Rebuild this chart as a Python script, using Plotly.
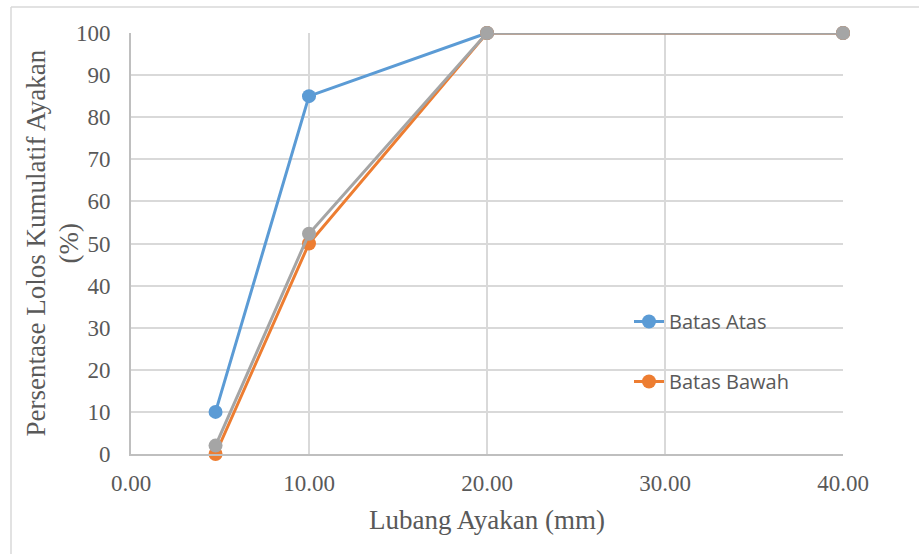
import plotly.graph_objects as go

x_vals = [4.75, 10, 20, 40]
batas_atas = [10, 85, 100, 100]
batas_bawah = [0, 50, 100, 100]
hasil = [2, 52.3, 100, 100]
x_ticks = [0, 10, 20, 30, 40]
x_tick_labels = ["0.00", "10.00", "20.00", "30.00", "40.00"]
y_ticks = list(range(0, 101, 10))

fig = go.Figure()
fig.add_trace(go.Scatter(x=x_vals, y=batas_atas, name="Batas Atas", mode="lines+markers",
                         line=dict(color="#5B9BD5", width=3), marker=dict(size=14, color="#5B9BD5"),
                         legendgroup="a", cliponaxis=False))
fig.add_trace(go.Scatter(x=x_vals, y=batas_bawah, name="Batas Bawah", mode="lines+markers",
                         line=dict(color="#ED7D31", width=3), marker=dict(size=14, color="#ED7D31"),
                         legendgroup="b", cliponaxis=False))
fig.add_trace(go.Scatter(x=x_vals, y=hasil, name="Hasil", mode="lines+markers",
                         line=dict(color="#A5A5A5", width=3), marker=dict(size=14, color="#A5A5A5"),
                         showlegend=False, cliponaxis=False))

L, R, T, B = 131, 76, 33, 100
W, H = 919, 554
pw, ph = W - L - R, H - T - B
txt = "#595959"

fig.update_layout(
    width=W, height=H,
    margin=dict(l=L, r=R, t=T, b=B),
    paper_bgcolor="white", plot_bgcolor="white",
    font=dict(family="Liberation Serif", color=txt),
    xaxis=dict(range=[0, 40], tickvals=x_ticks, ticktext=x_tick_labels,
               showgrid=True, gridcolor="#D9D9D9", gridwidth=2, zeroline=False,
               showline=True, linecolor="#BFBFBF", linewidth=2,
               tickfont=dict(size=23, family="Liberation Serif", color=txt), ticks="",
               ticklabelstandoff=7),
    yaxis=dict(range=[0, 100], tickvals=y_ticks,
               showgrid=True, gridcolor="#D9D9D9", gridwidth=2, zeroline=False,
               showline=True, linecolor="#BFBFBF", linewidth=2,
               tickfont=dict(size=23, family="Liberation Serif", color=txt), ticks="",
               ticklabelstandoff=14),
    legend=dict(x=(629 - L) / pw, y=1 - (302 - T) / ph, xanchor="left", yanchor="top",
                bgcolor="rgba(0,0,0,0)", font=dict(size=20, family="Open Sans", color=txt),
                traceorder="grouped", tracegroupgap=31),
    showlegend=True,
)

fig.add_annotation(text="Lubang Ayakan (mm)", xref="paper", yref="paper",
                   x=0.5, y=-(520 - (H - B)) / ph, xanchor="center", yanchor="middle",
                   showarrow=False, font=dict(size=27, family="Liberation Serif", color=txt))
fig.add_annotation(text="Persentase Lolos Kumulatif Ayakan", xref="paper", yref="paper",
                   x=(35 - L) / pw, y=0.5, xanchor="center", yanchor="middle", textangle=-90,
                   showarrow=False, font=dict(size=27, family="Liberation Serif", color=txt))
fig.add_annotation(text="(%)", xref="paper", yref="paper",
                   x=(68 - L) / pw, y=0.5, xanchor="center", yanchor="middle", textangle=-90,
                   showarrow=False, font=dict(size=27, family="Liberation Serif", color=txt))

# outer chart border (top and left visible)
fig.add_shape(type="line", xref="paper", yref="paper",
              x0=(11 - L) / pw, x1=(W - L) / pw + 0.01, y0=1 + (T - 7) / ph, y1=1 + (T - 7) / ph,
              line=dict(color="#D9D9D9", width=1.5))
fig.add_shape(type="line", xref="paper", yref="paper",
              x0=(11 - L) / pw, x1=(11 - L) / pw, y0=1 + (T - 7) / ph, y1=-(B + 5) / ph,
              line=dict(color="#D9D9D9", width=1.5))

fig.write_html("out.html")
